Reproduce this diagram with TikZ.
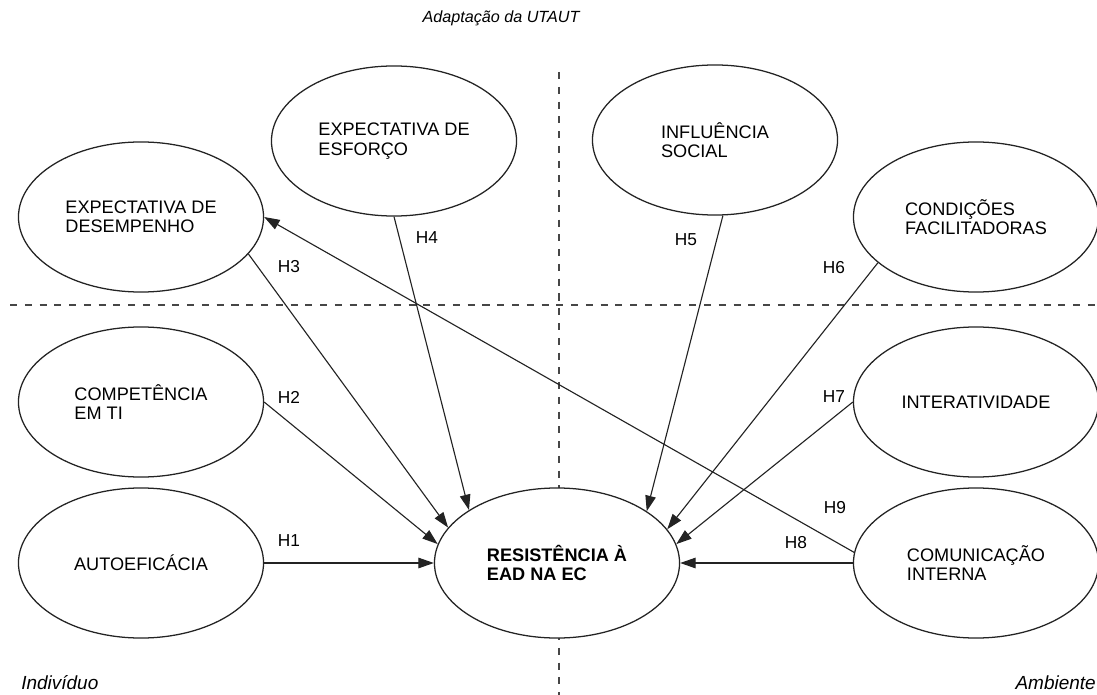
\documentclass[tikz,border=0pt]{standalone}
\usepackage{fontspec}
\setmainfont{Liberation Sans}
\usetikzlibrary{shapes.geometric, arrows.meta, positioning}
\definecolor{linegray}{RGB}{35, 35, 35}
\definecolor{dashgray}{RGB}{70, 70, 70}

\begin{document}
\begin{tikzpicture}[
          x=0.025cm, y=-0.025cm,
          construct/.style={ellipse, draw=linegray, fill=white, line width=0.9pt, minimum width=6.125cm, minimum height=3.75cm, inner sep=0pt, align=left, font=\fontsize{12.9}{13.8}\selectfont},
          hyp/.style={draw=linegray, line width=0.8pt, -{Triangle[length=11pt, width=7.5pt]}},
          hlabel/.style={font=\fontsize{12.3}{14}\selectfont, inner sep=0pt},
          divider/.style={draw=dashgray, line width=0.9pt, dash pattern=on 5pt off 5.5pt},
          zonelabel/.style={font=\fontsize{13.5}{15}\selectfont\itshape, inner sep=0pt}
        ]
          \useasboundingbox (0,0) rectangle (1097,695);

          % Quadrant dividers
          \draw[divider] (10,305) -- (1097,305);
          \draw[divider] (559,72) -- (559,695);

          % Title and zones
          \node[font=\fontsize{11.5}{13}\selectfont\itshape] (title) at (501,18) {Adaptação da UTAUT};
          \node[zonelabel, anchor=west] (indiv) at (21,683) {Indivíduo};
          \node[zonelabel, anchor=east] (amb) at (1096,683) {Ambiente};

          % UTAUT constructs
          \node[construct] (desemp) at (141,217) {EXPECTATIVA DE\\DESEMPENHO};
          \node[construct] (esforco) at (394,141) {EXPECTATIVA DE\\ESFORÇO};
          \node[construct] (social) at (715,140) {INFLUÊNCIA\\SOCIAL};
          \node[construct] (cond) at (976,217) {CONDIÇÕES\\FACILITADORAS};

          % Individual and environment constructs
          \node[construct] (comp) at (141,402) {COMPETÊNCIA\\EM TI};
          \node[construct] (auto) at (141,563) {AUTOEFICÁCIA};
          \node[construct] (inter) at (976,402) {INTERATIVIDADE};
          \node[construct] (comun) at (976,563) {COMUNICAÇÃO\\INTERNA};

          % Dependent construct
          \node[construct, font=\fontsize{12.9}{13.8}\selectfont\bfseries] (res) at (557,563) {RESISTÊNCIA À\\EAD NA EC};

          % Hypotheses
          \draw[hyp] (auto.east) -- (res.west);
          \draw[hyp] (comp.east) -- (res.171.5);
          \draw[hyp] (desemp.341) -- (res.162.6);
          \draw[hyp] (esforco.south) -- (res.149);
          \draw[hyp] (social.276) -- (res.30);
          \draw[hyp] (cond.205) -- (res.17);
          \draw[hyp] (inter.west) -- (res.9);
          \draw[hyp] (comun.west) -- (res.east);
          \draw[hyp] (comun.175.3) -- (desemp.east);

          \node[hlabel] (h1) at (289,541) {H1};
          \node[hlabel] (h2) at (289,397) {H2};
          \node[hlabel] (h3) at (289,267) {H3};
          \node[hlabel] (h4) at (427,238) {H4};
          \node[hlabel] (h5) at (686,240) {H5};
          \node[hlabel] (h6) at (834,268) {H6};
          \node[hlabel] (h7) at (834,397) {H7};
          \node[hlabel] (h8) at (796,543) {H8};
          \node[hlabel] (h9) at (835,508) {H9};
        \end{tikzpicture}
\end{document}
